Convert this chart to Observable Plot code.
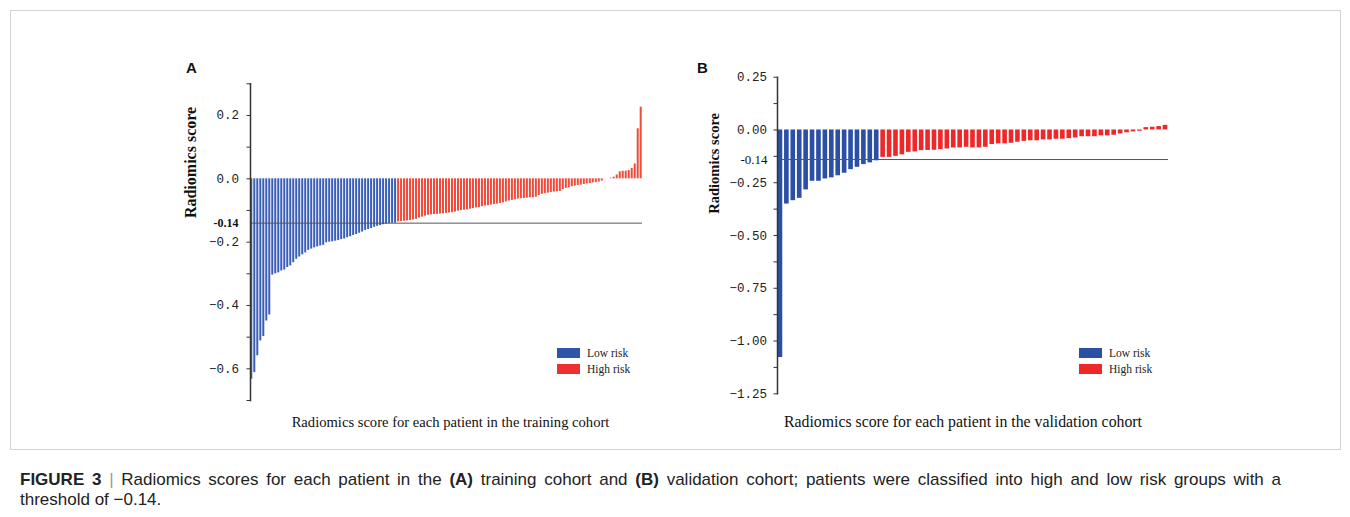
<!DOCTYPE html>
<html><head><meta charset="utf-8">
<script src="https://cdn.jsdelivr.net/npm/d3@7"></script>
<script src="https://cdn.jsdelivr.net/npm/@observablehq/plot@0.6"></script>
<style>
body{margin:0;background:#fff;}
#root{position:relative;width:1350px;height:517px;overflow:hidden;background:#fff;}
.frame{position:absolute;left:10px;top:10px;width:1331px;height:440px;border:1px solid #d4d4d4;box-sizing:border-box;}
.panel{position:absolute;}
.letter{position:absolute;font:bold 15px "Liberation Sans",Arial,sans-serif;color:#111;}
.legend{position:absolute;font:11.5px "Liberation Serif",serif;color:#222;}
.legend .row{display:flex;align-items:center;height:16px;}
.legend .sw{width:23px;height:10px;margin-right:7px;}
.caption{position:absolute;left:20px;top:470px;font:17px "Liberation Sans",Arial,sans-serif;line-height:20px;color:#222;}
.caption .l1{width:1261px;text-align:justify;text-align-last:justify;white-space:nowrap;}
.caption .l2{white-space:nowrap;}
.caption .sep{color:#999;}
</style></head><body><div id="root">
<div class="frame"></div>
<div class="letter" style="left:186px;top:59px;">A</div>
<div class="letter" style="left:697px;top:59px;">B</div>
<div id="pa" class="panel" style="left:170px;top:60px;"></div>
<div id="pb" class="panel" style="left:690px;top:60px;"></div>
<div id="la" class="legend" style="left:557px;top:345px;"></div>
<div id="lb" class="legend" style="left:1079px;top:345px;"></div>
<div class="caption"><div class="l1"><b>FIGURE 3</b> <span class="sep">|</span> Radiomics scores for each patient in the <b>(A)</b> training cohort and <b>(B)</b> validation cohort; patients were classified into high and low risk groups with a</div><div class="l2">threshold of −0.14.</div></div>
</div>
<script>
// ---- data ----
const groups = ["Low risk", "High risk"];
const threshold = -0.14;
const thresholdLabel = "-0.14";
const yLabel = "Radiomics score";
const xLabelA = "Radiomics score for each patient in the training cohort";
const xLabelB = "Radiomics score for each patient in the validation cohort";

const trainLow = [-0.633, -0.612, -0.559, -0.512, -0.498, -0.449, -0.43, -0.304, -0.30, -0.297,
  -0.291, -0.288, -0.28, -0.275, -0.265, -0.254, -0.247, -0.24, -0.234, -0.226,
  -0.222, -0.218, -0.215, -0.212, -0.21, -0.202, -0.200, -0.199, -0.197, -0.195,
  -0.192, -0.19, -0.186, -0.183, -0.179, -0.176, -0.172, -0.168, -0.163, -0.16,
  -0.157, -0.153, -0.15, -0.148, -0.145, -0.143, -0.141, -0.14, -0.14];
const trainHigh = [-0.136, -0.135, -0.134, -0.133, -0.132, -0.130, -0.128, -0.124, -0.121, -0.118,
  -0.115, -0.114, -0.113, -0.112, -0.111, -0.110, -0.109, -0.108, -0.107, -0.105,
  -0.102, -0.100, -0.099, -0.098, -0.096, -0.094, -0.092, -0.091, -0.088, -0.086,
  -0.085, -0.083, -0.081, -0.080, -0.078, -0.076, -0.073, -0.070, -0.068, -0.066,
  -0.064, -0.063, -0.062, -0.061, -0.060, -0.060, -0.058, -0.053, -0.049, -0.047,
  -0.045, -0.043, -0.042, -0.041, -0.040, -0.034, -0.030, -0.028, -0.025, -0.023,
  -0.021, -0.020, -0.018, -0.016, -0.015, -0.013, -0.012, -0.010, -0.007,
  0, 0, 0.002, 0.005, 0.012, 0.022, 0.024, 0.024, 0.026, 0.033, 0.047, 0.158, 0.226];

const validLow = [-1.078, -0.351, -0.335, -0.324, -0.284, -0.243, -0.243, -0.232, -0.227, -0.217,
  -0.205, -0.188, -0.177, -0.164, -0.156, -0.146];
const validHigh = [-0.13, -0.13, -0.125, -0.118, -0.106, -0.104, -0.098, -0.097, -0.096, -0.093,
  -0.090, -0.085, -0.085, -0.082, -0.085, -0.085, -0.082, -0.069, -0.066, -0.066,
  -0.063, -0.058, -0.054, -0.051, -0.051, -0.047, -0.047, -0.044, -0.044, -0.041,
  -0.038, -0.032, -0.032, -0.032, -0.028, -0.028, -0.025, -0.019, -0.013, -0.009,
  -0.006, 0.011, 0.013, 0.016, 0.022];

const majorA = [0.2, 0, -0.2, -0.4, -0.6];
const minorA = [0.3, 0.1, -0.1, -0.3, -0.5, -0.7];
const majorB = [0.25, 0, -0.25, -0.5, -0.75, -1.0, -1.25];
const minorB = [0.125, -0.125, -0.375, -0.625, -0.875, -1.125];

// ---- helpers ----
function table(low, high) {
  return low.map((v, i) => ({i, v, g: groups[0]}))
    .concat(high.map((v, j) => ({i: low.length + j, v, g: groups[1]})));
}
const fmt = (digits) => (d) => (d < 0 ? "\u2212" : "") + Math.abs(d).toFixed(digits);

function panel(o) {
  const data = table(o.low, o.high);
  return Plot.plot({
    width: 500, height: 380,
    marginLeft: o.ml, marginRight: o.mr, marginTop: o.mt, marginBottom: o.mb,
    x: {type: "band", domain: d3.range(data.length), paddingInner: o.pad, paddingOuter: 0.1, round: false, axis: null},
    y: {domain: o.domain, label: null},
    color: {domain: groups, range: o.colors},
    style: {fontFamily: "'Liberation Mono', monospace", fontSize: "12.5px", color: "#222", background: "transparent"},
    marks: [
      Plot.barY(data, {x: "i", y: "v", fill: "g"}),
      Plot.ruleY([threshold], {stroke: "#555", strokeWidth: 1}),
      Plot.frame({anchor: "left", stroke: "#333", strokeWidth: 1.5}),
      Plot.axisY(o.major, {tickSize: o.tickSize, tickPadding: o.tickPad, tickFormat: o.fmt, stroke: "#333", fill: "#222"}),
      Plot.axisY(o.minor, {tickSize: o.tickSize, tickFormat: () => "", stroke: "#333"}),
      Plot.text([thresholdLabel], {text: d => d, y: () => threshold, frameAnchor: "left", dx: o.thrDx, textAnchor: "end",
        fontFamily: "'Liberation Serif', serif", fontWeight: o.thrWeight, fontSize: o.thrSize, fill: "#111"}),
      Plot.text([yLabel], {text: d => d, y: () => o.yLabelAt, frameAnchor: "left", dx: o.yLabelDx, rotate: -90,
        fontFamily: "'Liberation Serif', serif", fontWeight: "bold", fontSize: o.yLabelSize, fill: "#111"}),
      Plot.text([o.xLabel], {text: d => d, frameAnchor: "bottom", dy: o.xLabelDy, dx: o.xLabelDx,
        fontFamily: "'Liberation Serif', serif", fontSize: o.xLabelSize, fill: "#111"})
    ]
  });
}

document.getElementById("pa").append(panel({
  low: trainLow, high: trainHigh, domain: [-0.7, 0.3],
  ml: 80, mr: 28, mt: 23.3, mb: 40, pad: 0.33, tickSize: 3.5, tickPad: 8,
  colors: ["#3b5fb8", "#f04a3a"], major: majorA, minor: minorA, fmt: fmt(1),
  thrWeight: "bold", thrSize: 12, thrDx: -12, yLabelAt: -0.124, yLabelDx: -60, yLabelSize: 16,
  xLabel: xLabelA, xLabelDx: 4, xLabelDy: 26, xLabelSize: 14.6
}));
document.getElementById("pb").append(panel({
  low: validLow, high: validHigh, domain: [-1.25, 0.25],
  ml: 87, mr: 22, mt: 16.7, mb: 46.7, pad: 0.28, tickSize: 3.5, tickPad: 7,
  colors: ["#2a4fa5", "#ee2828"], major: majorB, minor: minorB, fmt: fmt(2),
  thrWeight: "normal", thrSize: 13, thrDx: -10, yLabelAt: -0.397, yLabelDx: -63, yLabelSize: 14.5,
  xLabel: xLabelB, xLabelDx: -10, xLabelDy: 33, xLabelSize: 15.8
}));

function legend(id, colors) {
  const el = document.getElementById(id);
  groups.forEach((g, k) => {
    const row = document.createElement("div"); row.className = "row";
    const sw = document.createElement("div"); sw.className = "sw"; sw.style.background = colors[k];
    const t = document.createElement("span"); t.textContent = g;
    row.append(sw, t); el.append(row);
  });
}
legend("la", ["#2e55aa", "#ef3030"]);
legend("lb", ["#2a4fa5", "#ee2828"]);
</script>
</body></html>
